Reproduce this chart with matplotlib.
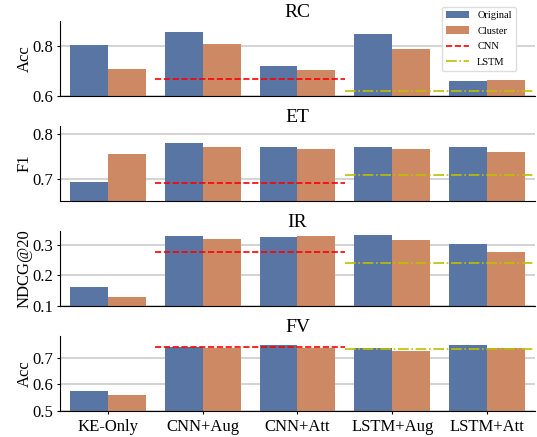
import matplotlib.pyplot as plt
import numpy as np

plt.rcParams['font.family'] = 'serif'
plt.rcParams['font.serif'] = ['Liberation Serif', 'DejaVu Serif']

models = ['KE-Only', 'CNN+Aug', 'CNN+Att', 'LSTM+Aug', 'LSTM+Att']
tasks = ['RC', 'ET', 'IR', 'FV']
metrics = ['Acc', 'F1', 'NDCG@20', 'Acc']

original = {
    'RC': [0.804, 0.856, 0.720, 0.848, 0.660],
    'ET': [0.693, 0.780, 0.771, 0.771, 0.771],
    'IR': [0.163, 0.330, 0.327, 0.333, 0.303],
    'FV': [0.576, 0.740, 0.750, 0.736, 0.750],
}
cluster = {
    'RC': [0.708, 0.809, 0.704, 0.788, 0.664],
    'ET': [0.755, 0.771, 0.766, 0.766, 0.760],
    'IR': [0.130, 0.320, 0.330, 0.317, 0.277],
    'FV': [0.561, 0.738, 0.738, 0.727, 0.736],
}
cnn_base = {'RC': 0.669, 'ET': 0.691, 'IR': 0.277, 'FV': 0.739}
lstm_base = {'RC': 0.621, 'ET': 0.709, 'IR': 0.241, 'FV': 0.735}

ylims = {'RC': (0.6, 0.9), 'ET': (0.65, 0.818), 'IR': (0.1, 0.347), 'FV': (0.5, 0.783)}
yticks = {'RC': [0.6, 0.8], 'ET': [0.7, 0.8], 'IR': [0.1, 0.2, 0.3], 'FV': [0.5, 0.6, 0.7]}

c_orig = '#5975A4'
c_clus = '#CC8963'

fig, axes = plt.subplots(4, 1, figsize=(5.37, 4.37), dpi=100, sharex=True)
fig.subplots_adjust(left=0.112, right=0.996, top=0.952, bottom=0.06, hspace=0.4)

x = np.arange(len(models))
w = 0.4
for i, (ax, task, metric) in enumerate(zip(axes, tasks, metrics)):
    b1 = ax.bar(x - w / 2, original[task], w, color=c_orig, zorder=2)
    b2 = ax.bar(x + w / 2, cluster[task], w, color=c_clus, zorder=2)
    l1, = ax.plot([0.5, 2.5], [cnn_base[task]] * 2, color='red', ls='--', lw=1.2, zorder=3)
    l2, = ax.plot([2.5, 4.5], [lstm_base[task]] * 2, color='y', ls='-.', lw=1.2, zorder=3)
    ax.set_ylim(*ylims[task])
    ax.set_yticks(yticks[task])
    ax.set_xlim(-0.5, 4.5)
    ax.set_title(task, fontsize=14, pad=1)
    ax.set_ylabel(metric, fontsize=12)
    ax.yaxis.set_label_coords(-0.058, 0.5)
    ax.tick_params(axis='y', labelsize=12, length=2.5, pad=2.5)
    ax.tick_params(axis='x', labelsize=12, length=2.5 if i == 3 else 0)
    ax.grid(axis='y', color='#cccccc', lw=1.2, zorder=0)
    ax.set_axisbelow(True)
    for s in ['top', 'right']:
        ax.spines[s].set_visible(False)
    if task == 'RC':
        ax.legend([b1, b2, l1, l2], ['Original', 'Cluster', 'CNN', 'LSTM'],
                  loc='upper right', bbox_to_anchor=(0.96, 1.19), borderaxespad=0,
                  fontsize=7.5, labelspacing=0.6, handlelength=2.2,
                  fancybox=True, framealpha=1, edgecolor='#dddddd')

axes[-1].set_xticks(x)
axes[-1].set_xticklabels(models)

plt.savefig('out.png')
